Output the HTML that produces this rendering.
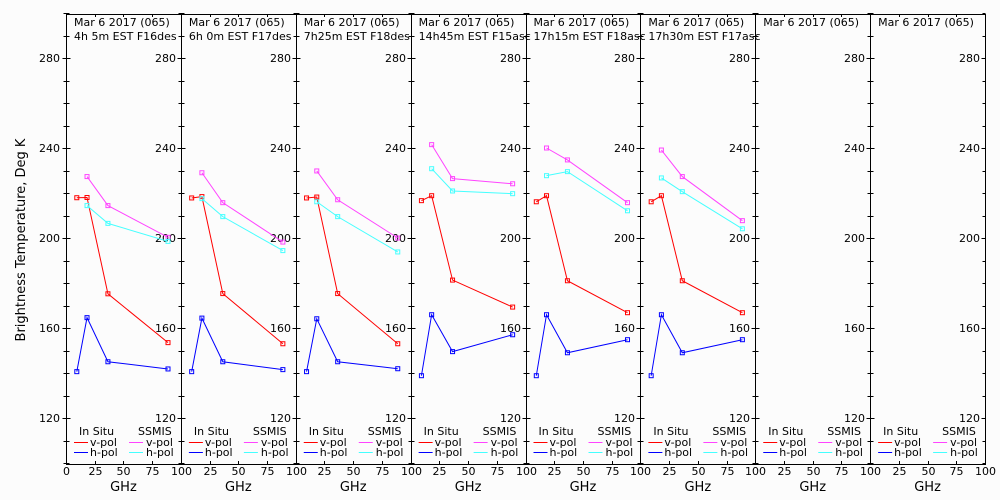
<!DOCTYPE html>
<html><head><meta charset="utf-8">
<style>
html,body{margin:0;padding:0;background:#fcfcfc;}
svg{display:block;font-family:"DejaVu Sans","Liberation Sans",sans-serif;}
</style></head>
<body>
<svg id="chart" width="1000" height="500" viewBox="0 0 1000 500">
<rect x="0" y="0" width="1000" height="500" fill="#fcfcfc"/>
<text x="0" y="0" transform="translate(25,240) rotate(-90)" text-anchor="middle" font-size="13" fill="#000">Brightness Temperature, Deg K</text>
<g id="g"></g>
</svg>
<script>
const titles1 = ["Mar 6 2017 (065)","Mar 6 2017 (065)","Mar 6 2017 (065)","Mar 6 2017 (065)","Mar 6 2017 (065)","Mar 6 2017 (065)","Mar 6 2017 (065)","Mar 6 2017 (065)"];
const titles2 = ["4h 5m  EST F16des","6h 0m  EST F17des","7h25m  EST F18des","14h45m  EST F15asc","17h15m  EST F18asc","17h30m  EST F17asc","",""];
const insituFreq = [9.4, 18.3, 36.5, 88.8];
const ssmisFreq = [18.3, 36.5, 88.8];
const insituV = [[217.9,218.0,175.2,153.5],[217.8,218.4,175.3,153.0],[217.8,218.2,175.3,153.0],[216.6,218.8,181.3,169.3],[216.1,218.8,181.0,166.8],[216.1,218.8,181.0,166.8],null,null];
const insituH = [[140.6,164.6,145.0,141.8],[140.6,164.4,145.0,141.5],[140.6,164.1,145.0,141.9],[138.8,165.9,149.5,157.0],[138.8,165.9,149.0,154.8],[138.8,165.9,149.0,154.8],null,null];
const ssmisV = [[227.3,214.4,200.3],[229.0,215.7,198.2],[229.8,217.0,200.0],[241.5,226.4,224.1],[240.0,234.7,215.7],[239.1,227.3,207.7],null,null];
const ssmisH = [[214.4,206.5,198.5],[217.5,209.5,194.4],[216.1,209.5,193.8],[230.8,220.9,219.7],[227.7,229.5,212.1],[226.7,220.6,204.1],null,null];
const yTicks = [120,160,200,240,280];
const xTicks = [25,50,75];

const NS="http://www.w3.org/2000/svg";
const g=document.getElementById('g');
const L0=66, PW=114.875, TOP=14, BOT=464;
function yS(v){return 418-(v-120)*2.25;}
function xS(i,f){return L0+i*PW+f*PW/100;}
function mk(tag,attrs,parent){const e=document.createElementNS(NS,tag);for(const k in attrs)e.setAttribute(k,attrs[k]);(parent||g).appendChild(e);return e;}
function txt(s,x,y,anchor,size,parent){const t=mk('text',{x:x,y:y,'text-anchor':anchor||'start','font-size':size||11,fill:'#000'},parent);t.textContent=s;return t;}

const frame=mk('g',{});


mk('line',{x1:L0,y1:TOP+0.5,x2:L0+8*PW,y2:TOP+0.5,stroke:'#000'},frame);
mk('line',{x1:L0,y1:BOT+0.5,x2:L0+8*PW,y2:BOT+0.5,stroke:'#000'},frame);
for(let i=0;i<=8;i++){
  const x=Math.round(L0+i*PW)+0.5;
  mk('line',{x1:x,y1:TOP,x2:x,y2:BOT+1,stroke:'#000'},frame);
  for(let v=100;v<=300;v+=10){
    const y=Math.round(yS(v))+0.5;
    const len=(v%40===0)?4:3;
    mk('line',{x1:x-len,y1:y,x2:x+(i<8?len:0),y2:y,stroke:'#000'},frame);
  }
  const lab=mk('g',{},frame);
  
  
  txt(i===0?'0':'100',x,475,'middle',11,lab);
}
const colors={iv:'#ff0000',ih:'#0000ff',sv:'#ff44ff',sh:'#44ffff'};
for(let i=0;i<8;i++){
  const p=mk('g',{});
  
  
  const px=L0+i*PW;
  const right=Math.round(L0+(i+1)*PW);
  const t1=txt(titles1[i],px+8,26,'start',11,p);
  
  
  if(titles2[i]){const t2=txt(titles2[i],px+8,40,'start',11,p);
  
  }
  yTicks.forEach(v=>{
    const t=txt(String(v),right-5,yS(v)+4,'end',11,p);
    
    
    if(i===0){const t0=txt(String(v),L0-6,yS(v)+4,'end',11,p);
      
      }
  });
  xTicks.forEach(f=>{
    const x=Math.round(xS(i,f))+0.5;
    mk('line',{x1:x,y1:BOT-3,x2:x,y2:BOT,stroke:'#000'},p);
    mk('line',{x1:x,y1:TOP,x2:x,y2:TOP+3,stroke:'#000'},p);
    const t=txt(String(f),x,475,'middle',11,p);
    
    
  });
  const gx=txt('GHz',px+PW/2,491,'middle',13,p);
  
  
  const lg=mk('g',{},p);
  
  
  txt('In Situ',px+13,435,'start',11,lg);
  txt('SSMIS',px+72,435,'start',11,lg);
  [['iv','v-pol',446],['ih','h-pol',456]].forEach(r=>{
    mk('line',{x1:px+8,y1:r[2]-3.5,x2:px+22,y2:r[2]-3.5,stroke:colors[r[0]]},lg);
    txt(r[1],px+24,r[2],'start',11,lg);
  });
  [['sv','v-pol',446],['sh','h-pol',456]].forEach(r=>{
    mk('line',{x1:px+63,y1:r[2]-3.5,x2:px+77,y2:r[2]-3.5,stroke:colors[r[0]]},lg);
    txt(r[1],px+80,r[2],'start',11,lg);
  });
  const series=[['insitu-v-pol',insituFreq,insituV[i],colors.iv],['insitu-h-pol',insituFreq,insituH[i],colors.ih],['ssmis-v-pol',ssmisFreq,ssmisV[i],colors.sv],['ssmis-h-pol',ssmisFreq,ssmisH[i],colors.sh]];
  series.forEach(s=>{
    if(!s[2])return;
    const sg=mk('g',{},p);
    
    
    const pts=s[1].map((f,k)=>[xS(i,f),yS(s[2][k])]);
    mk('polyline',{points:pts.map(q=>q.join(',')).join(' '),fill:'none',stroke:s[3],'stroke-width':1},sg);
    pts.forEach(q=>{
      const r=mk('rect',{x:q[0]-2,y:q[1]-2,width:4,height:4,fill:'none',stroke:s[3],'stroke-width':1},sg);
      
      
    });
  });
}
</script>
</body></html>
